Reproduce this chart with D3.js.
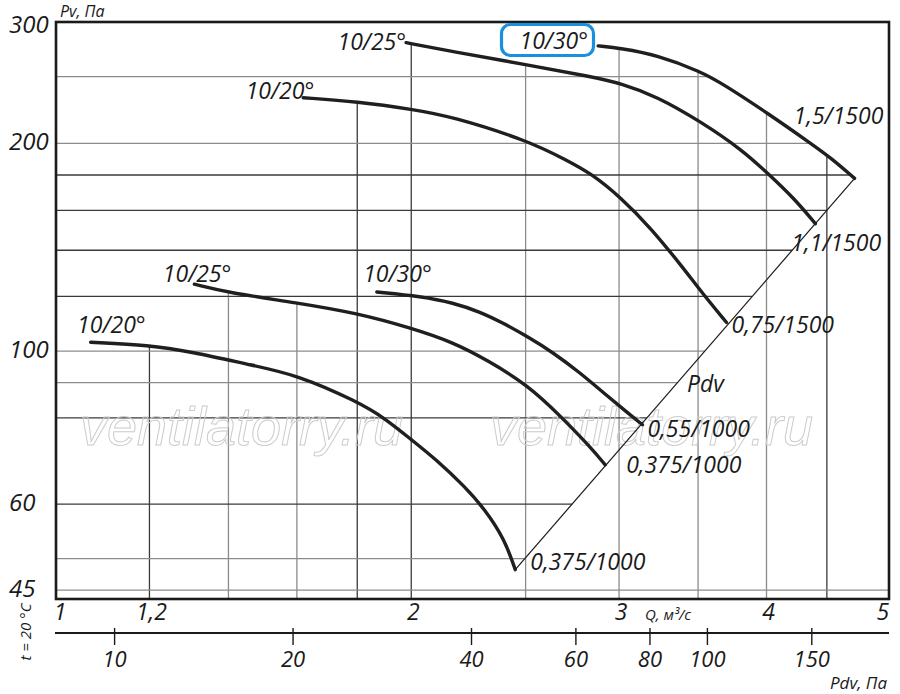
<!DOCTYPE html>
<html>
<head>
<meta charset="utf-8">
<script src="https://cdn.jsdelivr.net/npm/d3@7"></script>
<style>
  body { margin: 0; background: #fff; }
  text { font-family: "Open Sans", sans-serif; font-style: italic; fill: #1a1a1a; }
</style>
</head>
<body>
<svg id="chart" width="900" height="694"></svg>
<script>
// fan curves: Q in m3/s, Pv in Pa
var q1500_20 = [1.62, 1.80, 2.01, 2.16, 2.51, 2.71, 2.84, 3.01, 3.19, 3.40, 3.52, 3.70];
var p1500_20 = [233, 230, 224, 219, 202, 189, 181, 167, 151, 132, 122, 110];
var q1500_25 = [1.98, 2.16, 2.51, 2.84, 3.01, 3.23, 3.52, 3.81, 4.01, 4.22, 4.40];
var p1500_25 = [280, 272, 260, 250, 244.5, 234, 215, 196, 181, 166.6, 153];
var q1500_30 = [2.88, 3.01, 3.23, 3.52, 3.68, 4.01, 4.36, 4.54, 4.75];
var p1500_30 = [277, 274.8, 268.7, 254.2, 243.5, 221.2, 200.1, 190.4, 178];
var q1000_20 = [1.07, 1.20, 1.30, 1.46, 1.60, 1.80, 1.90, 2.00, 2.10, 2.22, 2.31, 2.40, 2.45];
var p1000_20 = [103, 102, 99.8, 95.5, 92.4, 84.5, 79.9, 74.4, 69.6, 63.6, 58.9, 53.3, 48.2];
var q1000_25 = [1.31, 1.40, 1.60, 1.80, 2.00, 2.17, 2.32, 2.51, 2.68, 2.84, 2.92];
var p1000_25 = [125, 121.5, 117.5, 113.5, 108, 103, 97, 89.3, 80.3, 72.4, 68.4];
var q1000_30 = [1.87, 2.04, 2.17, 2.29, 2.39, 2.51, 2.64, 2.78, 2.91, 3.05, 3.14];
var p1000_30 = [121.8, 120, 117.5, 113.9, 109.9, 104.9, 99.4, 93, 87, 81.4, 78.2];

var bladeLabels = ["10/20°", "10/25°", "10/30°", "10/20°", "10/25°", "10/30°"];
var motorLabels = ["0,75/1500", "1,1/1500", "1,5/1500", "0,375/1000", "0,375/1000", "0,55/1000"];

// Pdv line (end points of the curves)
var pdvLineQ = [2.45, 4.75];
var pdvLineP = [48.2, 178];

// axes
var pvTicks = [300, 200, 100, 60, 45];
var pvGrid = [250, 200, 180, 160, 140, 120, 100, 90, 80, 60, 50, 45];
var pvGridLight = [250, 200, 100, 90, 50, 45];
var qTicks = [1, 1.2, 2, 3, 4, 5];
var qTickLabels = ["1", "1,2", "2", "3", "4", "5"];
var qGrid = [1.2, 1.4, 1.6, 1.8, 2, 2.5, 3, 3.5, 4, 4.5];
var qGridLight = [1.4, 1.6, 2.5, 3, 3.5, 4];
var pdvTicks = [10, 20, 40, 60, 80, 100, 150];

var svg = d3.select('#chart');

var x = d3.scaleLog().domain([1, 5.08]).range([56, 889]);
var y = d3.scaleLog().domain([43.7, 300]).range([599, 22]);
var pdvX = d3.scaleLog().domain([10, 150]).range([114.6, 811.8]);

var curves = [
  {q: q1500_20, p: p1500_20},
  {q: q1500_25, p: p1500_25},
  {q: q1500_30, p: p1500_30},
  {q: q1000_20, p: p1000_20},
  {q: q1000_25, p: p1000_25},
  {q: q1000_30, p: p1000_30}
];
curves.forEach(function(c, i){
  c.points = c.q.map(function(q, j){ return [q, c.p[j]]; });
  c.blade = bladeLabels[i];
  c.motor = motorLabels[i];
});

// label offsets from curve start / end, px
var startOff = [[11, 1], [0, 7], [-10, 3], [55, -9], [37, -2], [55, -10]];
var endOff = [[5, 10], [-24, 27], [-61, -54], [15, 0], [21, 8], [5, 12]];

// log-log interpolation of a curve at q
var pvAt = function(c, q){
  for (var j = 0; j < c.q.length - 1; j++) {
    if (q >= c.q[j] && q <= c.q[j + 1]) {
      var t = Math.log(q / c.q[j]) / Math.log(c.q[j + 1] / c.q[j]);
      return Math.exp(Math.log(c.p[j]) + t * Math.log(c.p[j + 1] / c.p[j]));
    }
  }
  return null;
};

// q where a curve crosses pressure p
var qAt = function(qs, ps, p){
  for (var j = 0; j < qs.length - 1; j++) {
    var a = ps[j], b = ps[j + 1];
    if ((p <= a && p >= b) || (p >= a && p <= b)) {
      var t = Math.log(p / a) / Math.log(b / a);
      return Math.exp(Math.log(qs[j]) + t * Math.log(qs[j + 1] / qs[j]));
    }
  }
  return null;
};

// vertical grid: from the highest curve down to the bottom
var grid = svg.append('g');
qGrid.forEach(function(q){
  var top = d3.max(curves, function(c){ return pvAt(c, q); });
  grid.append('line')
    .attr('x1', x(q)).attr('x2', x(q))
    .attr('y1', y(top)).attr('y2', 599)
    .attr('stroke', qGridLight.indexOf(q) >= 0 ? '#8c8c8c' : '#3a3a3a')
    .attr('stroke-width', 1.3);
});

// horizontal grid: from the left edge to the Pdv line / outer curve
pvGrid.forEach(function(p){
  var qEnd = 5.08;
  if (p >= pdvLineP[0] && p <= pdvLineP[1]) qEnd = qAt(pdvLineQ, pdvLineP, p);
  else if (p > pdvLineP[1]) qEnd = qAt(q1500_30, p1500_30, p) || qEnd;
  grid.append('line')
    .attr('x1', 56).attr('x2', x(qEnd))
    .attr('y1', y(p)).attr('y2', y(p))
    .attr('stroke', pvGridLight.indexOf(p) >= 0 ? '#8c8c8c' : '#3a3a3a')
    .attr('stroke-width', 1.3);
});

// watermark
[80, 490].forEach(function(wx){
  svg.append('text')
    .attr('x', wx).attr('y', 445)
    .style('font-family', '"Liberation Sans", sans-serif')
    .style('font-size', '54px')
    .style('fill', 'none')
    .attr('stroke', '#cccccc').attr('stroke-width', 1)
    .text('ventilatorry.ru');
});

// frame
svg.append('rect')
  .attr('x', 56).attr('y', 22).attr('width', 833).attr('height', 577)
  .attr('fill', 'none').attr('stroke', '#1a1a1a').attr('stroke-width', 2.6);

// Pdv line
svg.append('line')
  .attr('x1', x(pdvLineQ[0])).attr('y1', y(pdvLineP[0]))
  .attr('x2', x(pdvLineQ[1])).attr('y2', y(pdvLineP[1]))
  .attr('stroke', '#1a1a1a').attr('stroke-width', 1.2);

var line = d3.line()
  .x(function(d){ return x(d[0]); })
  .y(function(d){ return y(d[1]); })
  .curve(d3.curveBasis);

svg.selectAll('path.curve')
  .data(curves)
  .enter()
  .append('path')
    .attr('class', 'curve')
    .attr('d', function(c){ return line(c.points); })
    .attr('fill', 'none')
    .attr('stroke', '#1f1f1f')
    .attr('stroke-width', 3.4)
    .attr('stroke-linecap', 'round');

// highlight box round the upper 10/30° label
svg.append('rect')
  .attr('x', 501.5).attr('y', 24.5).attr('width', 92).attr('height', 31).attr('rx', 9)
  .attr('fill', '#fff').attr('stroke', '#1a8fdc').attr('stroke-width', 3.2);

curves.forEach(function(c, i){
  var s = c.points[0], e = c.points[c.points.length - 1];
  svg.append('text')
    .attr('x', x(s[0]) + startOff[i][0]).attr('y', y(s[1]) + startOff[i][1])
    .attr('text-anchor', 'end')
    .style('font-size', '23px')
    .text(c.blade);
  svg.append('text')
    .attr('x', x(e[0]) + endOff[i][0]).attr('y', y(e[1]) + endOff[i][1])
    .style('font-size', '23px')
    .text(c.motor);
});

svg.append('text').attr('x', 687).attr('y', 392).style('font-size', '23px').text('Pdv');

// Pv axis labels
pvTicks.forEach(function(p){
  svg.append('text')
    .attr('x', 9).attr('y', Math.max(y(p) + 7, 33))
    .style('font-size', '24px')
    .text(p);
});
svg.append('text').attr('x', 60).attr('y', 17).style('font-size', '16px').text('Pv, Па');

// Q axis labels
qTicks.forEach(function(q, i){
  svg.append('text')
    .attr('x', x(q) + (q === 1 ? 4 : 2)).attr('y', 620)
    .attr('text-anchor', 'middle')
    .style('font-size', '23px')
    .text(qTickLabels[i]);
});
svg.append('text').attr('x', 645).attr('y', 620).style('font-size', '15px').text('Q, м³/с');

// Pdv axis
svg.append('line')
  .attr('x1', 55).attr('x2', 889).attr('y1', 633).attr('y2', 633)
  .attr('stroke', '#1a1a1a').attr('stroke-width', 2);
pdvTicks.forEach(function(v){
  svg.append('line')
    .attr('x1', pdvX(v)).attr('x2', pdvX(v)).attr('y1', 628).attr('y2', 645)
    .attr('stroke', '#1a1a1a').attr('stroke-width', 1.4);
  svg.append('text')
    .attr('x', pdvX(v)).attr('y', 667)
    .attr('text-anchor', 'middle')
    .style('font-size', '22px')
    .text(v);
});
svg.append('text').attr('x', 887).attr('y', 689).attr('text-anchor', 'end').style('font-size', '17px').text('Pdv, Па');

svg.append('text')
  .attr('transform', 'translate(31,632) rotate(-90)')
  .attr('text-anchor', 'middle')
  .style('font-size', '15px')
  .text('t = 20 °C');
</script>
</body>
</html>
